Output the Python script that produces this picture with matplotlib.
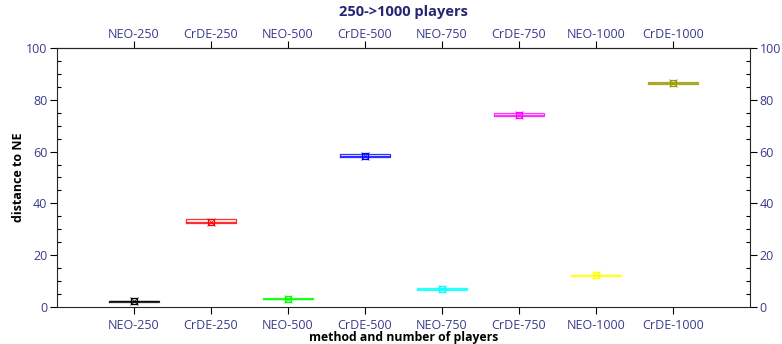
import matplotlib
matplotlib.use("Agg")
import matplotlib.pyplot as plt
from matplotlib.ticker import MultipleLocator

plt.rcParams['font.family'] = ['Open Sans', 'DejaVu Sans']

labels = ['NEO-250', 'CrDE-250', 'NEO-500', 'CrDE-500',
          'NEO-750', 'CrDE-750', 'NEO-1000', 'CrDE-1000']
colors = ['#000000', '#ff0000', '#00ff00', '#0000ff',
          '#00ffff', '#ff00ff', '#ffff00', '#999900']
q1 = [1.9, 32.4, 2.9, 58.0, 6.6, 73.8, 11.9, 86.0]
med = [2.2, 33.0, 3.2, 58.4, 6.9, 74.2, 12.2, 86.5]
q3 = [2.5, 33.8, 3.5, 58.9, 7.3, 74.8, 12.5, 87.0]

tick_color = '#3a3a8c'

fig = plt.figure(figsize=(7.82, 3.44), dpi=100)
ax = fig.add_axes([0.0729, 0.1076, 0.886, 0.753])

pos = list(range(1, len(labels) + 1))
for i, p in enumerate(pos):
    st = [dict(med=med[i], q1=q1[i], q3=q3[i], whislo=q1[i], whishi=q3[i],
               fliers=[])]
    ax.bxp(st, positions=[p], widths=0.64, showfliers=False,
           boxprops=dict(color=colors[i], lw=0.9, alpha=0.8),
           medianprops=dict(color=colors[i], lw=0.9, alpha=0.8),
           whiskerprops=dict(color=colors[i], lw=0.9),
           capprops=dict(color=colors[i], lw=0))
    ax.plot(p, med[i], 's', ms=4, mfc='none', mec=colors[i], mew=0.9)
    ax.plot(p, med[i], 'x', ms=6, color=colors[i], mew=0.7, alpha=0.8)

ax.set_xlim(0, 9)
ax.set_ylim(0, 100)
ax.set_xticks(pos)
ax.set_xticklabels(labels)
ax.yaxis.set_major_locator(MultipleLocator(20))
ax.yaxis.set_minor_locator(MultipleLocator(5))

ax.tick_params(axis='both', which='major', direction='out', length=5,
               width=0.8, labelsize=9, labelcolor=tick_color,
               top=False, right=True, labeltop=False, labelright=True)
ax.tick_params(axis='x', which='major', pad=4)
ax.tick_params(axis='y', which='major', pad=2)
ax.tick_params(axis='y', which='minor', direction='in', length=3,
               width=0.8, left=True, right=True)
ax.tick_params(axis='x', which='minor', bottom=False, top=False)
for s in ax.spines.values():
    s.set_linewidth(0.8)
    s.set_color('#262626')

# method names repeated along the top edge
top = ax.secondary_xaxis('top')
top.set_xticks(pos)
top.set_xticklabels(labels)
top.tick_params(direction='out', length=5, width=0.8, labelsize=9,
                labelcolor=tick_color, pad=0)
top.spines['top'].set_linewidth(0.8)
top.spines['top'].set_color('#262626')

ax.set_title('250->1000 players', fontsize=10.5, fontweight='bold',
             color='#262673', pad=9)
ax.set_xlabel('method and number of players', fontsize=8.8,
              fontweight='bold', labelpad=-1)
ax.set_ylabel('distance to NE', fontsize=9, fontweight='bold', labelpad=1)

fig.savefig('out.png', dpi=100)
